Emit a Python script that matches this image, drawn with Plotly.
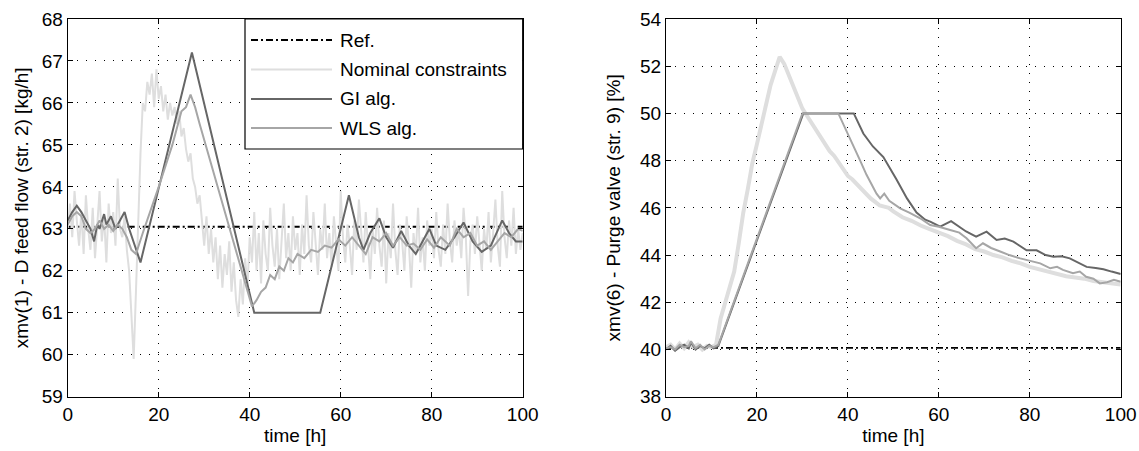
import numpy as np
import plotly.graph_objects as go

# ---------------- data: left plot (xmv(1) D feed flow) ----------------
ref_left = 63.05
ref_right = 40.07

nom_left_vals = [
    63.0, 63.6, 62.8, 63.9, 63.2, 62.6, 63.4, 62.4, 63.8, 63.0,
    62.5, 63.5, 62.3, 63.2, 63.9, 62.7, 63.3, 62.2, 63.6, 62.9,
    63.4, 62.6, 64.2, 63.0, 62.8, 63.3, 62.5, 62.0,
    60.8, 59.9, 61.5, 63.2, 64.8, 66.0, 65.8, 66.5, 66.2, 66.7,
    65.9, 66.8, 66.1, 66.4, 65.8, 66.2, 65.6, 66.0, 65.7, 65.9,
    65.5, 65.8, 65.2, 65.4, 64.9, 64.6, 64.8, 64.2, 64.0, 63.6,
    63.8, 63.2, 62.6, 63.3, 62.4, 63.0, 62.2, 62.8, 61.8, 62.6,
    61.6, 62.4, 61.9, 62.7, 61.5, 62.2, 61.3, 60.9, 61.8, 61.2,
    62.3, 61.6, 62.8, 62.2, 63.4, 62.0, 62.9, 61.7, 63.2, 62.4,
    62.0, 63.5, 62.6, 62.1, 63.0, 61.8, 62.7, 63.6, 62.3, 62.9,
    62.0, 63.3, 62.5, 62.9, 61.9, 63.1, 62.4, 63.8, 62.6, 62.2,
    63.4, 62.7, 61.9, 63.0, 62.5, 63.6, 62.3, 62.9, 62.1, 63.3,
    62.6, 62.0, 63.9, 62.8, 62.2, 63.1, 62.6, 61.9, 63.2, 62.5,
    63.7, 62.8, 62.2, 63.4, 62.7, 61.8, 63.0, 62.4, 63.5, 62.6,
    62.1, 63.2, 61.7, 62.9, 62.3, 63.6, 62.5, 61.9, 63.1, 62.7,
    62.0, 63.3, 62.6, 61.6, 62.9, 62.4, 63.5, 62.2, 62.8, 62.0,
    63.2, 62.6, 63.0, 62.3, 63.4, 62.5, 62.1, 63.1, 62.4, 63.6,
    62.7, 62.2, 63.2, 62.6, 63.0, 62.3, 63.5, 62.8, 61.4, 62.7,
    63.1, 62.4, 63.3, 62.6, 62.0, 63.0, 62.5, 63.4, 62.2, 62.9,
    63.7, 62.6, 62.1, 63.9, 62.8, 62.3, 63.2, 62.6, 63.5, 62.4,
    63.0, 62.5, 62.9,
]
nom_left_t = list(np.linspace(0, 100, len(nom_left_vals)))

gi_left_t = [0, 1, 2, 3, 4, 5, 5.8, 6.5, 7, 8, 8.5, 9.5, 10.5, 11.5, 12.5, 13.5,
             16, 27.3, 41, 55.5, 61.8, 64, 65, 66.5, 68.5, 70, 71.5, 73.3, 75,
             76.5, 78, 79.5, 81, 83, 85, 87, 89, 91, 93, 95.5, 97, 98.5, 100]
gi_left_v = [63.2, 63.4, 63.55, 63.4, 63.2, 63.0, 62.7, 63.1, 63.0, 63.35, 63.1,
             63.3, 63.0, 63.2, 63.4, 63.0, 62.2, 67.2, 61.0, 61.0, 63.8, 62.8,
             62.5, 62.9, 63.25, 62.8, 62.55, 62.95, 62.6, 62.4, 62.7, 63.0, 62.6,
             62.5, 62.8, 63.15, 62.7, 62.45, 62.6, 63.2, 62.9, 62.7, 62.7]

wls_left_t = [0, 1, 2, 3, 4, 5, 6, 7, 8, 9, 10, 11, 12, 13, 14, 15, 16.5, 20, 23,
              25, 26, 27, 28, 29, 40.5, 41.5, 42.5, 43.5, 44.5, 45.5, 46.5, 47.5,
              48.5, 49.5, 50.5, 52, 53.5, 55, 56.5, 58, 59.5, 61, 62.5, 64, 65.5,
              67, 68.5, 70, 71.5, 73, 74.5, 76, 77.5, 79, 80.5, 82, 84, 85.5, 87,
              88.5, 90, 91.5, 93, 94.5, 96, 97.5, 99, 100]
wls_left_v = [63.1, 63.3, 63.4, 63.3, 63.0, 62.9, 63.0, 63.2, 63.0, 63.1, 62.95,
              63.1, 63.0, 62.8, 62.5, 62.4, 62.9, 64.0, 65.0, 65.8, 65.9, 66.2,
              65.9, 65.5, 61.15, 61.3, 61.5, 61.6, 61.9, 61.8, 62.1, 62.0, 62.3,
              62.2, 62.4, 62.3, 62.5, 62.45, 62.6, 62.55, 62.75, 62.6, 62.8, 62.6,
              62.4, 62.8, 62.7, 62.9, 62.6, 62.8, 62.6, 62.65, 62.5, 62.75, 62.55,
              62.8, 62.6, 63.0, 62.8, 62.9, 62.6, 62.7, 62.5, 62.7, 62.9, 62.8,
              63.0, 62.95]

# ---------------- data: right plot (xmv(6) Purge valve) ----------------
nom_right_t = [0, 1, 2, 3, 4, 5, 6, 7, 8, 9, 10, 11, 12, 13, 14, 15, 16, 17, 18,
               19, 20, 21, 22, 23, 24, 25, 26, 27, 28, 29, 30, 31, 32, 33, 34, 35,
               36, 37, 38, 39, 40, 41, 42, 43, 44, 45, 46, 47, 48, 49, 50, 52, 54,
               56, 58, 60, 62, 64, 66, 68, 70, 72, 74, 76, 78, 80, 82, 84, 86, 88,
               90, 92, 94, 96, 98, 100]
nom_right_v = [40.1, 40.2, 40.0, 40.25, 40.05, 40.3, 40.1, 40.2, 40.0, 40.15, 40.1,
               40.2, 41.3, 42.0, 42.6, 43.3, 44.5, 45.8, 46.8, 47.9, 48.7, 49.6,
               50.5, 51.2, 51.8, 52.4, 52.1, 51.6, 51.1, 50.6, 50.2, 49.9, 49.6,
               49.35, 49.0, 48.7, 48.4, 48.2, 47.9, 47.6, 47.35, 47.2, 47.0, 46.75,
               46.55, 46.4, 46.25, 46.1, 46.05, 46.0, 45.85, 45.6, 45.45, 45.25,
               45.1, 44.95, 44.8, 44.6, 44.45, 44.25, 44.15, 44.0, 43.9, 43.75,
               43.65, 43.5, 43.4, 43.3, 43.2, 43.1, 43.05, 43.0, 42.9, 42.85, 42.8,
               42.75]

gi_right_t = [0, 1, 2, 3, 4, 5, 5.5, 6.5, 7.5, 8.5, 9.5, 10.5, 11.5, 30.2, 41.3,
              43.4, 45.5, 47.8, 50.7, 53, 55.1, 57, 58.1, 60.3, 62.7, 64.5, 66,
              68.2, 70.5, 72.7, 74.5, 76.4, 78, 79.3, 81.5, 83.5, 85.2, 87, 88.8,
              90.5, 92.5, 94.5, 96.2, 98, 100]
gi_right_v = [40.0, 40.15, 39.95, 40.1, 40.2, 40.05, 40.3, 40.0, 40.15, 40.05,
              40.2, 40.05, 40.15, 50.0, 50.0, 49.15, 48.6, 48.15, 47.2, 46.4, 45.8,
              45.5, 45.42, 45.2, 45.44, 45.2, 45.0, 44.78, 44.99, 44.64, 44.7,
              44.57, 44.35, 44.2, 44.2, 44.0, 43.93, 43.95, 43.86, 43.7, 43.5,
              43.45, 43.4, 43.3, 43.2]

wls_right_t = [0, 1, 2, 3, 4, 5, 5.5, 6.5, 7.5, 8.5, 9.5, 10.5, 11.5, 30, 37.9,
               40.5, 42.7, 44.1, 46.3, 47.1, 48, 49.1, 51.5, 53.5, 55.9, 58.1, 60,
               62.5, 64.5, 66.1, 68.2, 69.7, 71.5, 73.5, 75.5, 77.9, 80, 82.3, 84.5,
               86, 87.3, 89.5, 91, 92.4, 94, 95.4, 97, 98.5, 100]
wls_right_v = [40.05, 40.1, 40.0, 40.2, 40.1, 40.15, 40.35, 40.05, 40.2, 40.0,
               40.15, 40.1, 40.2, 50.0, 50.0, 48.95, 48.0, 47.4, 46.6, 46.4, 46.6,
               46.3, 45.98, 45.8, 45.56, 45.27, 45.2, 45.06, 44.95, 44.71, 44.29,
               44.5, 44.3, 44.15, 44.0, 43.86, 43.75, 43.65, 43.44, 43.5, 43.37,
               43.23, 43.3, 43.08, 43.0, 42.8, 42.85, 42.95, 42.87]

legend_labels = ["Ref.", "Nominal constraints", "GI alg.", "WLS alg."]

# ---------------- styling ----------------
W, H = 1139, 451
FONT = "Liberation Sans, Arial, sans-serif"
FS = 19
C_REF = "black"
C_NOM = "#dedede"
C_GI = "#666666"
C_WLS = "#a6a6a6"
REF_DASH = "7px,3px,2px,3px"


def px_x(p):
    return p / W


def px_y(p):
    return 1 - p / H


fig = go.Figure()

# left
fig.add_trace(go.Scatter(x=[0, 100], y=[ref_left, ref_left], mode="lines",
                         line=dict(color=C_REF, width=1.8, dash=REF_DASH),
                         name=legend_labels[0], xaxis="x", yaxis="y", showlegend=False))
fig.add_trace(go.Scatter(x=nom_left_t, y=nom_left_vals, mode="lines",
                         line=dict(color=C_NOM, width=2), name=legend_labels[1],
                         xaxis="x", yaxis="y", showlegend=False))
fig.add_trace(go.Scatter(x=gi_left_t, y=gi_left_v, mode="lines",
                         line=dict(color=C_GI, width=2), name=legend_labels[2],
                         xaxis="x", yaxis="y", showlegend=False))
fig.add_trace(go.Scatter(x=wls_left_t, y=wls_left_v, mode="lines",
                         line=dict(color=C_WLS, width=2), name=legend_labels[3],
                         xaxis="x", yaxis="y", showlegend=False))

# right
fig.add_trace(go.Scatter(x=[0, 100], y=[ref_right, ref_right], mode="lines",
                         line=dict(color=C_REF, width=1.8, dash=REF_DASH),
                         name=legend_labels[0], xaxis="x2", yaxis="y2", showlegend=False))
fig.add_trace(go.Scatter(x=nom_right_t, y=nom_right_v, mode="lines",
                         line=dict(color=C_NOM, width=4), name=legend_labels[1],
                         xaxis="x2", yaxis="y2", showlegend=False))
fig.add_trace(go.Scatter(x=gi_right_t, y=gi_right_v, mode="lines",
                         line=dict(color=C_GI, width=2), name=legend_labels[2],
                         xaxis="x2", yaxis="y2", showlegend=False))
fig.add_trace(go.Scatter(x=wls_right_t, y=wls_right_v, mode="lines",
                         line=dict(color=C_WLS, width=2), name=legend_labels[3],
                         xaxis="x2", yaxis="y2", showlegend=False))

ydom = [px_y(396.7), px_y(19)]
common_ax = dict(showline=True, linecolor="black", linewidth=1.2, mirror="allticks",
                 ticks="inside", ticklen=5, tickcolor="black", tickwidth=1,
                 showgrid=True, gridcolor="black", gridwidth=1, griddash="1px,8px",
                 zeroline=False, tickfont=dict(family=FONT, size=FS, color="black"),
                 title_font=dict(family=FONT, size=FS, color="black"), automargin=False)

fig.update_layout(
    width=W, height=H, margin=dict(l=0, r=0, t=0, b=0),
    paper_bgcolor="white", plot_bgcolor="white", showlegend=False,
    xaxis=dict(domain=[px_x(67.7), px_x(522.7)], range=[0, 100], tickvals=[0, 20, 40, 60, 80, 100],
               anchor="y", title=dict(text="time [h]", standoff=5), **common_ax),
    yaxis=dict(domain=ydom, range=[59, 68], dtick=1, anchor="x",
               title=dict(text="xmv(1) - D feed flow (str. 2) [kg/h]", standoff=8), **common_ax),
    xaxis2=dict(domain=[px_x(666), px_x(1120.7)], range=[0, 100], tickvals=[0, 20, 40, 60, 80, 100],
                anchor="y2", title=dict(text="time [h]", standoff=5), **common_ax),
    yaxis2=dict(domain=ydom, range=[38, 54], dtick=2, anchor="x2",
                title=dict(text="xmv(6) - Purge valve (str. 9) [%]", standoff=14), **common_ax),
)

# custom legend box (MATLAB style, long line samples)
lx0, lx1, ly0, ly1 = 245, 522.7, 19, 149
fig.add_shape(type="rect", xref="paper", yref="paper",
              x0=px_x(lx0), x1=px_x(lx1), y0=px_y(ly1), y1=px_y(ly0),
              line=dict(color="black", width=1.2), fillcolor="white", layer="above")
entry_y = [40, 69.5, 99, 128]
entry_col = [C_REF, C_NOM, C_GI, C_WLS]
entry_dash = [REF_DASH, "solid", "solid", "solid"]
for lab, yy, col, dsh in zip(legend_labels, entry_y, entry_col, entry_dash):
    fig.add_shape(type="line", xref="paper", yref="paper",
                  x0=px_x(251), x1=px_x(332), y0=px_y(yy), y1=px_y(yy),
                  line=dict(color=col, width=2 if dsh == "solid" else 1.8, dash=dsh),
                  layer="above")
    fig.add_annotation(xref="paper", yref="paper", x=px_x(338), y=px_y(yy),
                       xanchor="left", yanchor="middle", text=lab, showarrow=False,
                       font=dict(family=FONT, size=FS, color="black"))

fig.write_html("out.html", config={"displayModeBar": False},
               post_script="document.body.style.margin='0';document.body.style.overflow='hidden';")
